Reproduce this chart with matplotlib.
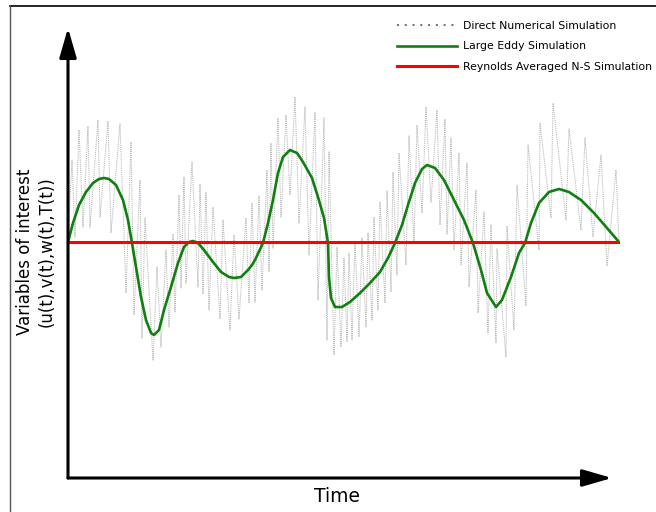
import matplotlib
matplotlib.use('Agg')
import matplotlib.pyplot as plt
from matplotlib.lines import Line2D

# DNS signal: fast zigzag around the mean (time units, value units)
dns_t = [0, 4, 7, 11, 15, 20, 22, 30, 32, 40, 43, 52, 58, 63, 66, 72, 74, 77,
         85, 89, 93, 98, 101, 105, 107, 111, 113, 116, 118, 124, 130, 132, 135,
         138, 141, 145, 152, 155, 162, 166, 171, 178, 181, 184, 187, 191, 194,
         199, 201, 203, 205, 210, 213, 218, 222, 227, 231, 237, 241, 247, 250,
         256, 259, 261, 266, 269, 273, 276, 279, 281, 284, 287, 291, 294, 298,
         300, 304, 306, 310, 312, 317, 319, 323, 325, 329, 331, 338, 341, 346,
         349, 354, 358, 363, 369, 372, 377, 379, 383, 386, 391, 393, 399, 401,
         408, 410, 416, 420, 423, 428, 429, 438, 439, 446, 449, 458, 460, 471,
         472, 483, 485, 498, 501, 513, 517, 525, 533, 539, 548, 551]
dns_v = [0, 82, 5, 112, 15, 116, 15, 122, 25, 121, 9, 118, -51, 100, -73, 62,
         -96, 24, -118, -25, -105, -8, -85, 8, -70, 47, -46, 65, -41, 80, -45,
         58, -52, 50, -68, 35, -77, 22, -88, 7, -77, 24, -61, 39, -60, 46, -48,
         72, -30, 99, -6, 124, 25, 127, 47, 145, 19, 135, -13, 130, -58, 124,
         -98, 90, -113, -5, -105, -16, -100, -11, -98, 0, -95, 4, -85, 9, -78,
         25, -68, 40, -61, 51, -50, 70, -33, 89, -23, 106, 0, 117, 29, 135, 40,
         132, 17, 123, 8, 104, -8, 89, -23, 79, -45, 52, -71, 30, -91, 17, -101,
         -7, -115, 16, -88, 57, -64, 97, -8, 119, 24, 139, 22, 113, 12, 104, 5,
         87, -24, 72, 0]

# LES signal: filtered, smooth
les_t = [0, 5, 11, 18, 25, 31, 36, 41, 48, 55, 60, 64, 68, 73, 78, 83, 86, 91,
         96, 103, 110, 116, 121, 125, 130, 136, 145, 153, 161, 166, 173, 180,
         184, 187, 195, 200, 205, 210, 215, 222, 229, 235, 244, 250, 256, 260,
         261, 263, 267, 274, 282, 292, 302, 312, 320, 327, 334, 340, 347, 354,
         359, 367, 376, 386, 396, 405, 413, 419, 428, 434, 443, 451, 457, 463,
         471, 481, 491, 501, 513, 526, 539, 551]
les_v = [0, 19, 37, 50, 59, 63, 64, 63, 57, 42, 22, -1, -25, -55, -78, -91, -93,
         -88, -68, -45, -21, -5, 0, 1, -1, -8, -20, -30, -35, -36, -35, -28, -23,
         -18, -1, 19, 42, 69, 85, 92, 89, 80, 64, 45, 24, -1, -35, -56, -65, -65,
         -60, -51, -41, -30, -16, -1, 17, 37, 59, 73, 77, 74, 62, 42, 22, -1,
         -28, -51, -65, -58, -35, -11, -1, 19, 39, 50, 53, 50, 42, 29, 14, 0]

# RANS: time-averaged mean
rans_t = [0, 551]
rans_v = [0, 0]

labels = ['Direct Numerical Simulation', 'Large Eddy Simulation',
          'Reynolds Averaged N-S Simulation']

W, H = 656, 512
fig = plt.figure(figsize=(W / 100, H / 100), dpi=100)
ax = fig.add_axes([68 / W, 34 / H, 552 / W, 450 / H])
ax.set_xlim(0, 552)
ax.set_ylim(-236, 214)
ax.axis('off')

ax.plot(dns_t, dns_v, color='#b4b4b4', lw=0.75, ls=(0, (1, 1)), label=labels[0])
ax.plot(les_t, les_v, color='#0f800f', lw=1.9, solid_joinstyle='round', label=labels[1])
ax.plot(rans_t, rans_v, color='#ff0000', lw=2.2, label=labels[2], zorder=3)

# axes drawn as arrows
arrow = dict(arrowstyle='-|>,head_length=0.9,head_width=0.26', lw=2.2,
             color='black', mutation_scale=20, shrinkA=0, shrinkB=0)
ax.annotate('', xy=(0, 1.0), xytext=(0, 0), xycoords='axes fraction',
            arrowprops=arrow, annotation_clip=False)
ax.annotate('', xy=(544 / 552, 0), xytext=(0, 0), xycoords='axes fraction',
            arrowprops=arrow, annotation_clip=False)

fig.text(337 / W, 1 - 497 / H, 'Time', ha='center', va='center', fontsize=13.5,
         family='DejaVu Sans')
fig.text(36 / W, 1 - 252 / H, 'Variables of interest\n(u(t),v(t),w(t),T(t))',
         rotation=90, ha='center', va='center', fontsize=12, linespacing=1.3,
         family='DejaVu Sans')

leg = fig.legend(loc='upper left', bbox_to_anchor=(397 / W, 1 - 21 / H),
                 frameon=False, handlelength=5.5, handletextpad=0.55,
                 labelspacing=0.95, borderpad=0, borderaxespad=0,
                 prop={'family': 'DejaVu Sans', 'size': 7.8})
leg.get_lines()[0].set_color('#707070')
leg.get_lines()[0].set_linewidth(1.4)
leg.get_lines()[0].set_linestyle((0, (1, 3)))

# outer frame (only top and left visible)
fig.add_artist(Line2D([10 / W, 1], [1 - 6 / H, 1 - 6 / H], color='black', lw=1.2))
fig.add_artist(Line2D([10 / W, 10 / W], [1 - 6 / H, 0], color='#555555', lw=1.0))

fig.savefig('out.png', dpi=100)
